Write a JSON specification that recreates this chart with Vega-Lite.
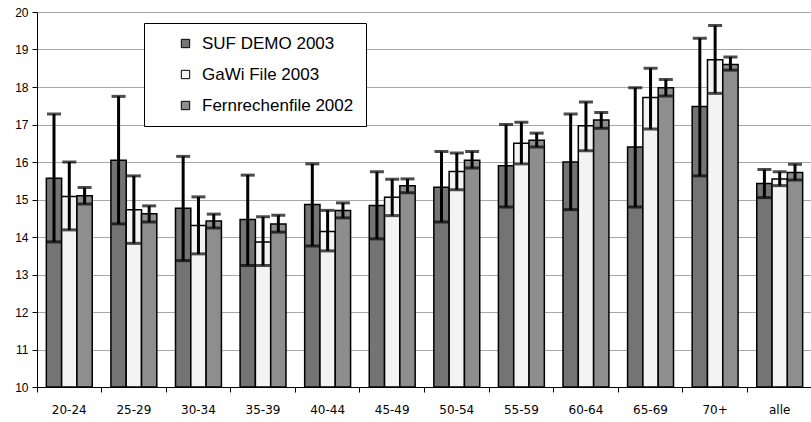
{
  "$schema": "https://vega.github.io/schema/vega-lite/v6.json",
  "autosize": {"type": "none"},
  "width": 775,
  "height": 375,
  "padding": {"left": 37, "top": 12, "right": 0, "bottom": 35},
  "background": "white",
  "config": {
    "view": {"stroke": null},
    "axisY": {
      "domainColor": "black", "tickColor": "black", "tickSize": 5,
      "gridColor": "#a8a8a8", "gridWidth": 1.2, "labelFont": "Liberation Sans",
      "labelFontSize": 12, "labelColor": "black", "labelPadding": 4, "labelOverlap": false
    }
  },
  "data": {"values": [
    {"group": "20-24", "series": "SUF DEMO 2003", "value": 15.57, "lo": 13.87, "hi": 17.28},
    {"group": "20-24", "series": "GaWi File 2003", "value": 15.08, "lo": 14.19, "hi": 16.0},
    {"group": "20-24", "series": "Fernrechenfile 2002", "value": 15.1, "lo": 14.88, "hi": 15.32},
    {"group": "25-29", "series": "SUF DEMO 2003", "value": 16.05, "lo": 14.35, "hi": 17.75},
    {"group": "25-29", "series": "GaWi File 2003", "value": 14.73, "lo": 13.83, "hi": 15.63},
    {"group": "25-29", "series": "Fernrechenfile 2002", "value": 14.62, "lo": 14.4, "hi": 14.83},
    {"group": "30-34", "series": "SUF DEMO 2003", "value": 14.77, "lo": 13.37, "hi": 16.15},
    {"group": "30-34", "series": "GaWi File 2003", "value": 14.31, "lo": 13.55, "hi": 15.07},
    {"group": "30-34", "series": "Fernrechenfile 2002", "value": 14.43, "lo": 14.24, "hi": 14.61},
    {"group": "35-39", "series": "SUF DEMO 2003", "value": 14.47, "lo": 13.24, "hi": 15.65},
    {"group": "35-39", "series": "GaWi File 2003", "value": 13.87, "lo": 13.24, "hi": 14.54},
    {"group": "35-39", "series": "Fernrechenfile 2002", "value": 14.35, "lo": 14.13, "hi": 14.58},
    {"group": "40-44", "series": "SUF DEMO 2003", "value": 14.87, "lo": 13.76, "hi": 15.95},
    {"group": "40-44", "series": "GaWi File 2003", "value": 14.15, "lo": 13.63, "hi": 14.71},
    {"group": "40-44", "series": "Fernrechenfile 2002", "value": 14.71, "lo": 14.51, "hi": 14.91},
    {"group": "45-49", "series": "SUF DEMO 2003", "value": 14.84, "lo": 13.95, "hi": 15.74},
    {"group": "45-49", "series": "GaWi File 2003", "value": 15.06, "lo": 14.57, "hi": 15.54},
    {"group": "45-49", "series": "Fernrechenfile 2002", "value": 15.37, "lo": 15.18, "hi": 15.55},
    {"group": "50-54", "series": "SUF DEMO 2003", "value": 15.33, "lo": 14.4, "hi": 16.28},
    {"group": "50-54", "series": "GaWi File 2003", "value": 15.75, "lo": 15.26, "hi": 16.24},
    {"group": "50-54", "series": "Fernrechenfile 2002", "value": 16.05, "lo": 15.84, "hi": 16.28},
    {"group": "55-59", "series": "SUF DEMO 2003", "value": 15.9, "lo": 14.8, "hi": 17.0},
    {"group": "55-59", "series": "GaWi File 2003", "value": 16.5, "lo": 15.95, "hi": 17.06},
    {"group": "55-59", "series": "Fernrechenfile 2002", "value": 16.58, "lo": 16.4, "hi": 16.77},
    {"group": "60-64", "series": "SUF DEMO 2003", "value": 16.0, "lo": 14.73, "hi": 17.28},
    {"group": "60-64", "series": "GaWi File 2003", "value": 16.97, "lo": 16.3, "hi": 17.6},
    {"group": "60-64", "series": "Fernrechenfile 2002", "value": 17.12, "lo": 16.9, "hi": 17.32},
    {"group": "65-69", "series": "SUF DEMO 2003", "value": 16.4, "lo": 14.8, "hi": 17.98},
    {"group": "65-69", "series": "GaWi File 2003", "value": 17.72, "lo": 16.88, "hi": 18.5},
    {"group": "65-69", "series": "Fernrechenfile 2002", "value": 17.98, "lo": 17.76, "hi": 18.2},
    {"group": "70+", "series": "SUF DEMO 2003", "value": 17.48, "lo": 15.63, "hi": 19.3},
    {"group": "70+", "series": "GaWi File 2003", "value": 18.73, "lo": 17.83, "hi": 19.64},
    {"group": "70+", "series": "Fernrechenfile 2002", "value": 18.6, "lo": 18.45, "hi": 18.8},
    {"group": "alle", "series": "SUF DEMO 2003", "value": 15.43, "lo": 15.05, "hi": 15.8},
    {"group": "alle", "series": "GaWi File 2003", "value": 15.55, "lo": 15.37, "hi": 15.74},
    {"group": "alle", "series": "Fernrechenfile 2002", "value": 15.72, "lo": 15.52, "hi": 15.94}
  ]},
  "encoding": {
    "x": {
      "field": "group", "type": "nominal", "sort": null, "title": null,
      "scale": {"paddingInner": 0, "paddingOuter": 0},
      "axis": {
        "labelAngle": 0, "bandPosition": 0, "domainColor": "black", "domainWidth": 1,
        "tickColor": "black", "tickSize": 5, "labelPadding": 12,
        "labelFont": "DejaVu Sans", "labelFontSize": 12, "labelColor": "black", "grid": false
      }
    },
    "xOffset": {
      "field": "series", "type": "nominal",
      "sort": ["SUF DEMO 2003", "GaWi File 2003", "Fernrechenfile 2002"],
      "scale": {"paddingInner": 0, "paddingOuter": 0.61}
    }
  },
  "layer": [
    {
      "mark": {"type": "bar", "stroke": "black", "strokeWidth": 1.5},
      "encoding": {
        "y": {
          "field": "value", "type": "quantitative", "title": null,
          "scale": {"domain": [10, 20], "zero": false, "nice": false},
          "axis": {"values": [10, 11, 12, 13, 14, 15, 16, 17, 18, 19, 20], "title": null}
        },
        "y2": {"datum": 10},
        "fill": {
          "field": "series", "type": "nominal",
          "sort": ["SUF DEMO 2003", "GaWi File 2003", "Fernrechenfile 2002"],
          "scale": {"domain": ["SUF DEMO 2003", "GaWi File 2003", "Fernrechenfile 2002"], "range": ["#747474", "#f3f3f3", "#8e8e8e"]},
          "legend": {
            "title": null, "orient": "none", "legendX": 107, "legendY": 11,
            "strokeColor": "black", "fillColor": "white", "padding": 12,
            "symbolType": "square", "symbolSize": 70, "symbolStrokeColor": "black",
            "symbolStrokeWidth": 1, "symbolOffset": 21, "labelOffset": 8,
            "labelFont": "Liberation Sans", "labelFontSize": 17, "labelColor": "black",
            "rowPadding": 13, "labelLimit": 300
          }
        }
      }
    },
    {
      "mark": {"type": "rule", "color": "black", "strokeWidth": 3},
      "encoding": {
        "y": {"field": "lo", "type": "quantitative", "title": null, "axis": {"values": [10, 11, 12, 13, 14, 15, 16, 17, 18, 19, 20], "title": null}},
        "y2": {"field": "hi"}
      }
    },
    {
      "mark": {"type": "tick", "color": "black", "thickness": 3, "size": 14, "orient": "horizontal"},
      "encoding": {"y": {"field": "hi", "type": "quantitative", "title": null, "axis": {"values": [10, 11, 12, 13, 14, 15, 16, 17, 18, 19, 20], "title": null}}}
    },
    {
      "mark": {"type": "tick", "color": "black", "thickness": 3, "size": 14, "orient": "horizontal"},
      "encoding": {"y": {"field": "lo", "type": "quantitative", "title": null, "axis": {"values": [10, 11, 12, 13, 14, 15, 16, 17, 18, 19, 20], "title": null}}}
    }
  ]
}
